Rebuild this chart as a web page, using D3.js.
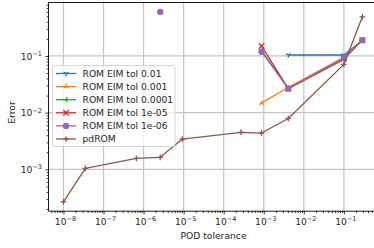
<!DOCTYPE html>
<html>
<head>
<meta charset="utf-8">
<script src="https://cdn.jsdelivr.net/npm/d3@7"></script>
<style>
  body { margin: 0; background: #fff; }
  svg text { font-family: "DejaVu Sans", sans-serif; fill: #262626; }
</style>
</head>
<body>
<div id="chart"></div>
<script>

// POD tolerance values (shared x positions)
var podTol = [1e-8, 3.5e-8, 6.6e-7, 2.6e-6, 9.3e-6, 2.7e-4, 8.8e-4, 4.1e-3, 0.1, 0.29];

// error per series, null where there is no point
var romTol1 = [null, null, null, null, null, null, null, 0.104, 0.104, 0.19];
var romTol2 = [null, null, null, null, null, null, 0.0147, 0.028, 0.095, 0.19];
var romTol3 = [null, null, null, null, null, null, 0.125, 0.0265, 0.087, 0.19];
var romTol4 = [null, null, null, null, null, null, 0.15, 0.0265, 0.09, 0.19];
var romTol5 = [null, null, null, 0.6, null, null, 0.119, 0.0265, 0.092, 0.19];
var pdRom   = [2.68e-4, 1.04e-3, 1.56e-3, 1.63e-3, 3.42e-3, 4.5e-3, 4.37e-3, 7.9e-3, 0.071, 0.49];

var seriesNames = ["ROM EIM tol 0.01", "ROM EIM tol 0.001", "ROM EIM tol 0.0001",
                   "ROM EIM tol 1e-05", "ROM EIM tol 1e-06", "pdROM"];
var xTickExps = [-8, -7, -6, -5, -4, -3, -2, -1];
var yTickExps = [-3, -2, -1];

function drawChart() {

    var colors = ["#1f77b4", "#ff7f0e", "#2ca02c", "#d62728", "#9467bd", "#8c564b"];
    var markers = ["tri_down", "tri_up", "tri_left", "x", "o", "+"];

    var width = 374, height = 248;
    var pLeft = 48.5, pRight = 378, pTop = 2.5, pBottom = 211.2;

    var svg = d3.select("#chart").append("svg")
        .attr("width", width)
        .attr("height", height);

    var x = d3.scaleLog().domain([Math.pow(10, -8.374), Math.pow(10, -0.148)]).range([pLeft, pRight]);
    var y = d3.scaleLog().domain([Math.pow(10, -3.738), Math.pow(10, -0.057)]).range([pBottom, pTop]);

    // grid
    var grid = svg.append("g");
    xTickExps.forEach(function(e) {
        grid.append("line")
            .attr("x1", x(Math.pow(10, e))).attr("x2", x(Math.pow(10, e)))
            .attr("y1", pTop).attr("y2", pBottom)
            .attr("stroke", "#c4c4c4").attr("stroke-width", 1.2);
    });
    yTickExps.forEach(function(e) {
        grid.append("line")
            .attr("x1", pLeft).attr("x2", pRight)
            .attr("y1", y(Math.pow(10, e))).attr("y2", y(Math.pow(10, e)))
            .attr("stroke", "#c4c4c4").attr("stroke-width", 1.2);
    });

    // minor tick values
    function minors(scale) {
        var d = scale.domain(), out = [];
        for (var e = -10; e <= 1; e++) {
            for (var m = 2; m <= 9; m++) {
                var v = m * Math.pow(10, e);
                if (v >= d[0] && v <= d[1]) out.push(v);
            }
        }
        return out;
    }

    var xMajor = xTickExps.map(function(e) { return Math.pow(10, e); });
    var yMajor = yTickExps.map(function(e) { return Math.pow(10, e); });

    function styleAxis(g) {
        g.select(".domain").remove();
        g.selectAll(".tick line").attr("stroke", "#000").attr("stroke-width", 0.8);
    }

    svg.append("g").attr("transform", "translate(0," + pBottom + ")")
        .call(d3.axisBottom(x).tickValues(xMajor).tickSize(3.2).tickFormat(""))
        .call(styleAxis);
    svg.append("g").attr("transform", "translate(0," + pBottom + ")")
        .call(d3.axisBottom(x).tickValues(minors(x)).tickSize(1.8).tickFormat(""))
        .call(styleAxis);
    svg.append("g").attr("transform", "translate(" + pLeft + ",0)")
        .call(d3.axisLeft(y).tickValues(yMajor).tickSize(3.2).tickFormat(""))
        .call(styleAxis);
    svg.append("g").attr("transform", "translate(" + pLeft + ",0)")
        .call(d3.axisLeft(y).tickValues(minors(y)).tickSize(1.8).tickFormat(""))
        .call(styleAxis);

    // tick labels with superscripts
    function powLabel(sel, e) {
        sel.append("tspan").text("10");
        sel.append("tspan").attr("dy", -3.8).attr("font-size", "6.5px").text("\u2212" + (-e));
    }
    xTickExps.forEach(function(e) {
        var t = svg.append("text")
            .attr("x", x(Math.pow(10, e)) + 2)
            .attr("y", 225)
            .attr("text-anchor", "middle")
            .attr("font-size", "9.2px");
        powLabel(t, e);
    });
    yTickExps.forEach(function(e) {
        var t = svg.append("text")
            .attr("x", 42)
            .attr("y", y(Math.pow(10, e)) + 3.8)
            .attr("text-anchor", "end")
            .attr("font-size", "9.2px");
        powLabel(t, e);
    });

    // spines
    svg.append("line").attr("x1", pLeft).attr("x2", pLeft).attr("y1", pTop).attr("y2", pBottom)
        .attr("stroke", "#000").attr("stroke-width", 0.9);
    svg.append("line").attr("x1", pLeft).attr("x2", pRight).attr("y1", pBottom).attr("y2", pBottom)
        .attr("stroke", "#000").attr("stroke-width", 0.9);
    svg.append("line").attr("x1", pLeft).attr("x2", pRight).attr("y1", pTop).attr("y2", pTop)
        .attr("stroke", "#000").attr("stroke-width", 0.9);

    // axis titles
    svg.append("text").attr("x", 213.5).attr("y", 238.5)
        .attr("text-anchor", "middle").attr("font-size", "9.2px").text("POD tolerance");
    svg.append("text").attr("transform", "translate(15,112.5) rotate(-90)")
        .attr("text-anchor", "middle").attr("font-size", "9.2px").text("Error");

    // markers
    function drawMarker(g, type, cx, cy, color) {
        var r = 2.8, s = 0.866;
        var segs = [];
        if (type === "o") {
            g.append("circle").attr("cx", cx).attr("cy", cy).attr("r", 3.2).attr("fill", color);
            return;
        }
        if (type === "tri_down") segs = [[0, r], [-r * s, -r / 2], [r * s, -r / 2]];
        if (type === "tri_up") segs = [[0, -r], [-r * s, r / 2], [r * s, r / 2]];
        if (type === "tri_left") segs = [[-r, 0], [r / 2, -r * s], [r / 2, r * s]];
        if (type === "+") segs = [[0, -r], [0, r], [-r, 0], [r, 0]];
        if (type === "x") segs = [[-r, -r], [r, r], [-r, r], [r, -r]];
        segs.forEach(function(p) {
            g.append("line")
                .attr("x1", cx).attr("y1", cy)
                .attr("x2", cx + p[0]).attr("y2", cy + p[1])
                .attr("stroke", color).attr("stroke-width", 1.3);
        });
    }

    var allSeries = [romTol1, romTol2, romTol3, romTol4, romTol5, pdRom];

    var line = d3.line()
        .defined(function(d) { return d[1] !== null; })
        .x(function(d) { return x(d[0]); })
        .y(function(d) { return y(d[1]); });

    var plot = svg.append("g");

    allSeries.forEach(function(vals, i) {
        var pts = podTol.map(function(t, k) { return [t, vals[k]]; });
        var g = plot.append("g");
        g.append("path")
            .attr("d", line(pts))
            .attr("fill", "none")
            .attr("stroke", colors[i])
            .attr("stroke-width", 1.3)
            .attr("stroke-linejoin", "round");
        pts.filter(function(p) { return p[1] !== null; }).forEach(function(p) {
            drawMarker(g, markers[i], x(p[0]), y(p[1]), colors[i]);
        });
    });

    // legend
    var lg = svg.append("g");
    lg.append("rect")
        .attr("x", 52.5).attr("y", 65.5)
        .attr("width", 122.5).attr("height", 81)
        .attr("rx", 2.5)
        .attr("fill", "#fff").attr("fill-opacity", 0.8)
        .attr("stroke", "#cccccc").attr("stroke-width", 0.8);

    seriesNames.forEach(function(name, i) {
        var ly = 73.5 + i * 13.1;
        lg.append("line")
            .attr("x1", 56).attr("x2", 76)
            .attr("y1", ly).attr("y2", ly)
            .attr("stroke", colors[i]).attr("stroke-width", 1.3);
        drawMarker(lg, markers[i], 66, ly, colors[i]);
        lg.append("text")
            .attr("x", 82.5).attr("y", ly + 3.3)
            .attr("font-size", "9.2px")
            .text(name);
    });
}

drawChart();

</script>
</body>
</html>
